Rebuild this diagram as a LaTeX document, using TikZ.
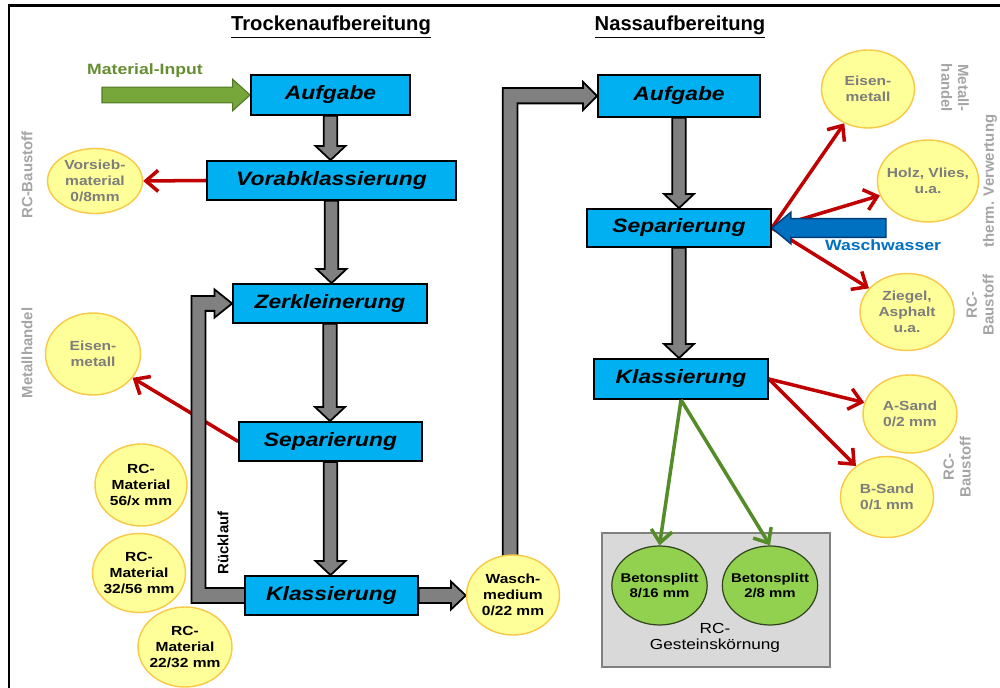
\documentclass[tikz,border=0pt]{standalone}
\usepackage{fontspec}
\setmainfont{Liberation Sans}[FakeStretch=1.18]
\newfontfamily\plainfont{Liberation Sans}
\usetikzlibrary{shapes.geometric,arrows.meta,calc}
\pgfdeclarelayer{bg}
\pgfsetlayers{bg,main}
\definecolor{boxblue}{RGB}{0,176,240}
\definecolor{pipegrey}{RGB}{128,128,128}
\definecolor{redarr}{RGB}{192,0,0}
\definecolor{ellfill}{RGB}{255,255,153}
\definecolor{ellborder}{RGB}{248,200,70}
\definecolor{greenfill}{RGB}{146,208,80}
\definecolor{greenborder}{RGB}{50,70,30}
\definecolor{greenarr}{RGB}{84,140,40}
\definecolor{inputgreen}{RGB}{119,166,58}
\definecolor{inputdark}{RGB}{80,120,40}
\definecolor{boxgrey}{RGB}{217,217,217}
\definecolor{wwblue}{RGB}{0,112,192}
\definecolor{wwdark}{RGB}{0,60,120}
\definecolor{txtgrey}{RGB}{125,125,125}
\definecolor{lblgrey}{RGB}{165,165,165}
\tikzset{
  proc/.style={draw=black, line width=1pt, fill=boxblue, inner sep=0pt,
    font=\fontsize{11}{13}\selectfont\bfseries\itshape},
  ell/.style={ellipse, draw=ellborder, line width=0.8pt, fill=ellfill, inner sep=-3pt,
    align=center, font=\fontsize{7.5}{9}\selectfont\bfseries},
  gtext/.style={text=txtgrey},
  gell/.style={ellipse, draw=greenborder, line width=0.7pt, fill=greenfill, inner sep=-3pt,
    align=center, font=\fontsize{7.2}{9}\selectfont\bfseries},
  gbox/.style={draw=pipegrey, line width=1.6pt, fill=boxgrey, inner sep=0pt},
  sidelbl/.style={text=lblgrey, align=center, font=\plainfont\fontsize{8.5}{9.5}\selectfont\bfseries},
  title/.style={font=\plainfont\fontsize{11.5}{13}\selectfont\bfseries},
  gpipe/.style={fill=pipegrey, draw=black, line width=1pt, line join=miter},
  redline/.style={draw=redarr, line width=2pt, -{Straight Barb[length=7pt,width=12pt]}},
  greenline/.style={draw=greenarr, line width=2pt, -{Straight Barb[length=7pt,width=12pt]}},
}
\newcommand\gdown[2]{\path[gpipe] let \p1=(#1.south), \p2=(#2.north) in
  (\x1-3.8pt,\y1) -- (\x1-3.8pt,\y2+8pt) -- (\x1-8.5pt,\y2+8pt) -- (\x1,\y2)
  -- (\x1+8.5pt,\y2+8pt) -- (\x1+3.8pt,\y2+8pt) -- (\x1+3.8pt,\y1) -- cycle;}
\begin{document}
\begin{tikzpicture}[x=0.02cm, y=-0.02cm]
\useasboundingbox (0,0) rectangle (1000,688);
\begin{pgfonlayer}{bg}
\fill[white] (0,0) rectangle (1000,688);
\end{pgfonlayer}
\draw[line width=1.7pt] (9,688) -- (9,6) -- (1000,6);

% titles
\node[title] (t1) at (331,27) {\underline{Trockenaufbereitung}};
\node[title] (t2) at (680,27) {\underline{Nassaufbereitung}};

% process boxes
\node[proc, minimum width=3.18cm, minimum height=0.8cm] (A1) at (330.5,95) {Aufgabe};
\node[proc, minimum width=4.98cm, minimum height=0.78cm] (V) at (331.5,180.5) {Vorabklassierung};
\node[proc, minimum width=3.88cm, minimum height=0.78cm] (Z) at (330,303.5) {Zerkleinerung};
\node[proc, minimum width=3.66cm, minimum height=0.78cm] (S1) at (330.5,441.5) {Separierung};
\node[proc, minimum width=3.46cm, minimum height=0.78cm] (K1) at (331.5,595.5) {Klassierung};
\node[proc, minimum width=3.24cm, minimum height=0.84cm] (A2) at (679,96) {Aufgabe};
\node[proc, minimum width=3.68cm, minimum height=0.76cm] (S2) at (679,228) {Separierung};
\node[proc, minimum width=3.48cm, minimum height=0.8cm] (K2) at (681,379) {Klassierung};

% left ellipses
\node[ell, gtext, minimum width=1.9cm, minimum height=1.3cm] (Evor) at (95,181) {Vorsieb-\\material\\0/8mm};
\node[ell, gtext, minimum width=1.9cm, minimum height=1.64cm] (EeisL) at (93,354) {Eisen-\\metall};
\node[ell, minimum width=1.84cm, minimum height=1.64cm] (Erc1) at (141,485) {RC-\\Material\\56/x mm};
\node[ell, minimum width=1.86cm, minimum height=1.58cm] (Erc2) at (139,573) {RC-\\Material\\32/56 mm};
\node[ell, minimum width=1.88cm, minimum height=1.6cm] (Erc3) at (185,647) {RC-\\Material\\22/32 mm};
\node[ell, minimum width=1.86cm, minimum height=1.6cm] (Ew) at (513,595) {Wasch-\\medium\\0/22 mm};

% right ellipses
\node[ell, gtext, minimum width=1.86cm, minimum height=1.56cm] (EeisR) at (868,89) {Eisen-\\metall};
\node[ell, gtext, minimum width=1.86cm, minimum height=1.64cm] (Eholz) at (928,181) {Holz, Vlies,\\u.a.};
\node[ell, gtext, minimum width=1.88cm, minimum height=1.54cm] (Ezieg) at (907,312) {Ziegel,\\Asphalt\\u.a.};
\node[ell, gtext, minimum width=1.88cm, minimum height=1.56cm] (Easand) at (910,414) {A-Sand\\0/2 mm};
\node[ell, gtext, minimum width=1.86cm, minimum height=1.62cm] (Ebsand) at (887,497) {B-Sand\\0/1 mm};

% grey product box
\node[gbox, minimum width=4.56cm, minimum height=2.68cm] (GB) at (716,600) {};
\node[gell, minimum width=1.86cm, minimum height=1.58cm] (G1) at (659.5,585.5) {Betonsplitt\\8/16 mm};
\node[gell, minimum width=1.88cm, minimum height=1.58cm] (G2) at (770,585.5) {Betonsplitt\\2/8 mm};
\node[align=center, font=\fontsize{8.3}{9.5}\selectfont] (GBt) at (715,638) {RC-\\Gesteinskörnung};

% green product arrows (over the grey box)
\draw[greenline] (K2.south) -- (G1.north);
\draw[greenline] (K2.south) -- (G2.north);

% side labels
\node[sidelbl, rotate=90] (lRC) at (27,175) {RC-Baustoff};
\node[sidelbl, rotate=90] (lMH) at (27,353) {Metallhandel};
\node[sidelbl, rotate=-90] (rMH) at (955,88) {Metall-\\handel};
\node[sidelbl, rotate=90] (rTV) at (990,181) {therm. Verwertung};
\node[sidelbl, rotate=90] (rRC1) at (980,305) {RC-\\Baustoff};
\node[sidelbl, rotate=90] (rRC2) at (957,467) {RC-\\Baustoff};

% free labels
\node[text=inputgreen!85!black, font=\fontsize{8.5}{10}\selectfont\bfseries] (lMI) at (145,71) {Material-Input};
\node[text=wwblue, font=\fontsize{8.5}{10}\selectfont\bfseries] (lWW) at (883,245) {Waschwasser};
\node[rotate=90, font=\plainfont\fontsize{8.5}{10}\selectfont\bfseries] (lRL) at (223,543) {Rücklauf};

\coordinate (minput) at (102,95);
\coordinate (wwstart) at (886,228);

\begin{pgfonlayer}{bg}
  % red output arrows
  \draw[redline] (V.west) -- (Evor.east);
  \draw[redline] (S1.west) -- (EeisL);
  \draw[redline] (S2.east) -- (EeisR);
  \draw[redline] (S2.east) -- (Eholz);
  \draw[redline] (S2.east) -- (Ezieg);
  \draw[redline] (K2.east) -- (Easand);
  \draw[redline] (K2.east) -- (Ebsand);
  % grey flow arrows
  \gdown{A1}{V}
  \gdown{V}{Z}
  \gdown{Z}{S1}
  \gdown{S1}{K1}
  \gdown{A2}{S2}
  \gdown{S2}{K2}
  \path[gpipe] let \p1=(K1.east), \p2=(Ew.west) in
    (\x1,\y1+4.2pt) -- (\x2-8.5pt,\y1+4.2pt) -- (\x2-8.5pt,\y1+8pt) -- (\x2,\y1)
    -- (\x2-8.5pt,\y1-8pt) -- (\x2-8.5pt,\y1-4.2pt) -- (\x1,\y1-4.2pt) -- cycle;
  % Ruecklauf
  \path[gpipe] let \p1=(K1.west), \p2=(Z.west) in
    (\x1+2pt,\y1-4.2pt) -- (\x1-30pt,\y1-4.2pt) -- (\x1-30pt,\y2+4.2pt)
    -- (\x2-10pt,\y2+4.2pt) -- (\x2-10pt,\y2+8pt) -- (\x2,\y2)
    -- (\x2-10pt,\y2-8pt) -- (\x2-10pt,\y2-4.2pt) -- (\x1-22pt,\y2-4.2pt)
    -- (\x1-22pt,\y1+4.2pt) -- (\x1+2pt,\y1+4.2pt) -- cycle;
  % transfer to wet processing
  \path[gpipe] let \p1=(Ew.north), \p2=(A2.west) in
    (\x1-5.8pt,\y1-4pt) -- (\x1-5.8pt,\y2+4.5pt) -- (\x2-8pt,\y2+4.5pt)
    -- (\x2-8pt,\y2+8pt) -- (\x2,\y2) -- (\x2-8pt,\y2-8pt) -- (\x2-8pt,\y2-4.2pt)
    -- (\x1+2.6pt,\y2-4.2pt) -- (\x1+2.6pt,\y1-4pt) -- cycle;
  % material input
  \path[fill=inputgreen, draw=inputdark, line width=0.6pt] let \p1=(minput), \p2=(A1.west) in
    (\x1,\y1+4.5pt) -- (\x2-10pt,\y1+4.5pt) -- (\x2-10pt,\y1+9pt) -- (\x2,\y1)
    -- (\x2-10pt,\y1-9pt) -- (\x2-10pt,\y1-4.5pt) -- (\x1,\y1-4.5pt) -- cycle;
  % wash water
  \path[fill=wwblue, draw=wwdark, line width=0.8pt] let \p1=(wwstart), \p2=(S2.east) in
    (\x1,\y1+5.3pt) -- (\x2+10.8pt,\y1+5.3pt) -- (\x2+10.8pt,\y1+9pt) -- (\x2,\y1)
    -- (\x2+10.8pt,\y1-9pt) -- (\x2+10.8pt,\y1-5.3pt) -- (\x1,\y1-5.3pt) -- cycle;
\end{pgfonlayer}
\end{tikzpicture}
\end{document}
